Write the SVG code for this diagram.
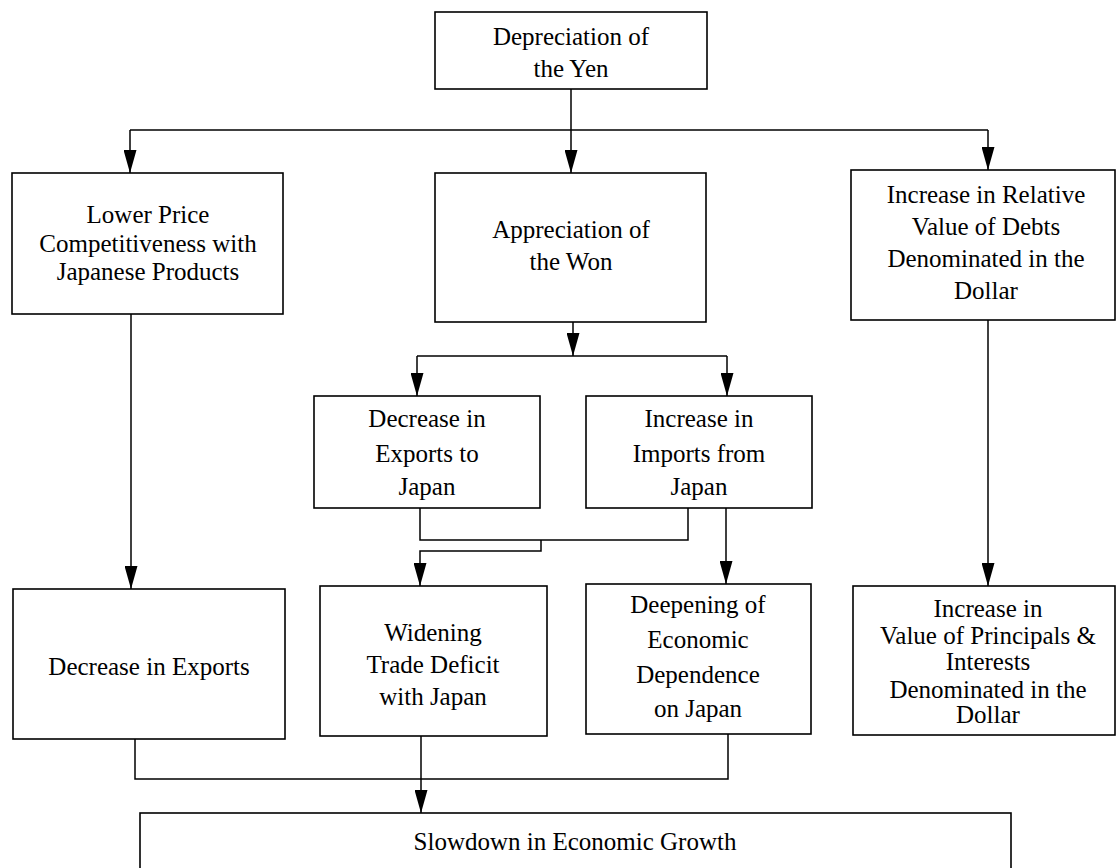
<svg xmlns="http://www.w3.org/2000/svg" width="1116" height="868" viewBox="0 0 1116 868">
<style>
  .box { fill: #ffffff; stroke: #000000; stroke-width: 1.6; }
  .lbl { font-family: "Liberation Serif", "Times New Roman", serif; font-size: 25px; fill: #000000; text-anchor: middle; }
  .ln { fill: none; stroke: #000000; stroke-width: 1.5; }
</style>
<defs>
  <marker id="arr" viewBox="0 0 23 13" markerWidth="23" markerHeight="13" refX="23" refY="6.5" orient="auto" markerUnits="userSpaceOnUse">
    <path d="M0,0 L23,6.5 L0,13 z" fill="#000000"/>
  </marker>
</defs>
<rect width="1116" height="868" fill="#ffffff"/>

<g id="connectors">
  <path class="ln" d="M571,89 V173" marker-end="url(#arr)"/>
  <path class="ln" d="M130,130 H988"/>
  <path class="ln" d="M130,130 V173" marker-end="url(#arr)"/>
  <path class="ln" d="M988,130 V170" marker-end="url(#arr)"/>
  <path class="ln" d="M131,314 V589" marker-end="url(#arr)"/>
  <path class="ln" d="M573,322 V356" marker-end="url(#arr)"/>
  <path class="ln" d="M417,356 H727"/>
  <path class="ln" d="M417,356 V396" marker-end="url(#arr)"/>
  <path class="ln" d="M727,356 V396" marker-end="url(#arr)"/>
  <path class="ln" d="M988,320 V586" marker-end="url(#arr)"/>
  <path class="ln" d="M420,508 V540 H688 V508"/>
  <path class="ln" d="M541,540 V551 H420 V586" marker-end="url(#arr)"/>
  <path class="ln" d="M726,508 V584" marker-end="url(#arr)"/>
  <path class="ln" d="M135,739 V779 H728 V734"/>
  <path class="ln" d="M421,736 V813" marker-end="url(#arr)"/>
</g>

<g id="n-depreciation">
  <rect class="box" x="435" y="12" width="272" height="77"/>
  <text class="lbl" x="571" y="45">Depreciation of</text>
  <text class="lbl" x="571" y="77">the Yen</text>
</g>

<g id="n-lower-price">
  <rect class="box" x="12" y="173" width="271" height="141"/>
  <text class="lbl" x="148" y="223">Lower Price</text>
  <text class="lbl" x="148" y="252">Competitiveness with</text>
  <text class="lbl" x="148" y="280">Japanese Products</text>
</g>

<g id="n-appreciation">
  <rect class="box" x="435" y="173" width="271" height="149"/>
  <text class="lbl" x="571" y="238">Appreciation of</text>
  <text class="lbl" x="571" y="270">the Won</text>
</g>

<g id="n-debts">
  <rect class="box" x="851" y="170" width="264" height="150"/>
  <text class="lbl" x="986" y="203">Increase in Relative</text>
  <text class="lbl" x="986" y="235">Value of Debts</text>
  <text class="lbl" x="986" y="267">Denominated in the</text>
  <text class="lbl" x="986" y="299">Dollar</text>
</g>

<g id="n-dec-exports-japan">
  <rect class="box" x="314" y="396" width="226" height="112"/>
  <text class="lbl" x="427" y="427">Decrease in</text>
  <text class="lbl" x="427" y="462">Exports to</text>
  <text class="lbl" x="427" y="495">Japan</text>
</g>

<g id="n-inc-imports-japan">
  <rect class="box" x="586" y="396" width="226" height="112"/>
  <text class="lbl" x="699" y="427">Increase in</text>
  <text class="lbl" x="699" y="462">Imports from</text>
  <text class="lbl" x="699" y="495">Japan</text>
</g>

<g id="n-dec-exports">
  <rect class="box" x="13" y="589" width="272" height="150"/>
  <text class="lbl" x="149" y="675">Decrease in Exports</text>
</g>

<g id="n-trade-deficit">
  <rect class="box" x="320" y="586" width="227" height="150"/>
  <text class="lbl" x="433" y="641">Widening</text>
  <text class="lbl" x="433" y="673">Trade Deficit</text>
  <text class="lbl" x="433" y="705">with Japan</text>
</g>

<g id="n-dependence">
  <rect class="box" x="586" y="584" width="225" height="150"/>
  <text class="lbl" x="698" y="613">Deepening of</text>
  <text class="lbl" x="698" y="648">Economic</text>
  <text class="lbl" x="698" y="683">Dependence</text>
  <text class="lbl" x="698" y="717">on Japan</text>
</g>

<g id="n-principals">
  <rect class="box" x="853" y="586" width="262" height="149"/>
  <text class="lbl" x="988" y="617">Increase in</text>
  <text class="lbl" x="988" y="644">Value of Principals &amp;</text>
  <text class="lbl" x="988" y="670">Interests</text>
  <text class="lbl" x="988" y="698">Denominated in the</text>
  <text class="lbl" x="988" y="723">Dollar</text>
</g>

<g id="n-slowdown">
  <rect class="box" x="140" y="813" width="871" height="80"/>
  <text class="lbl" x="575" y="850">Slowdown in Economic Growth</text>
</g>
</svg>
